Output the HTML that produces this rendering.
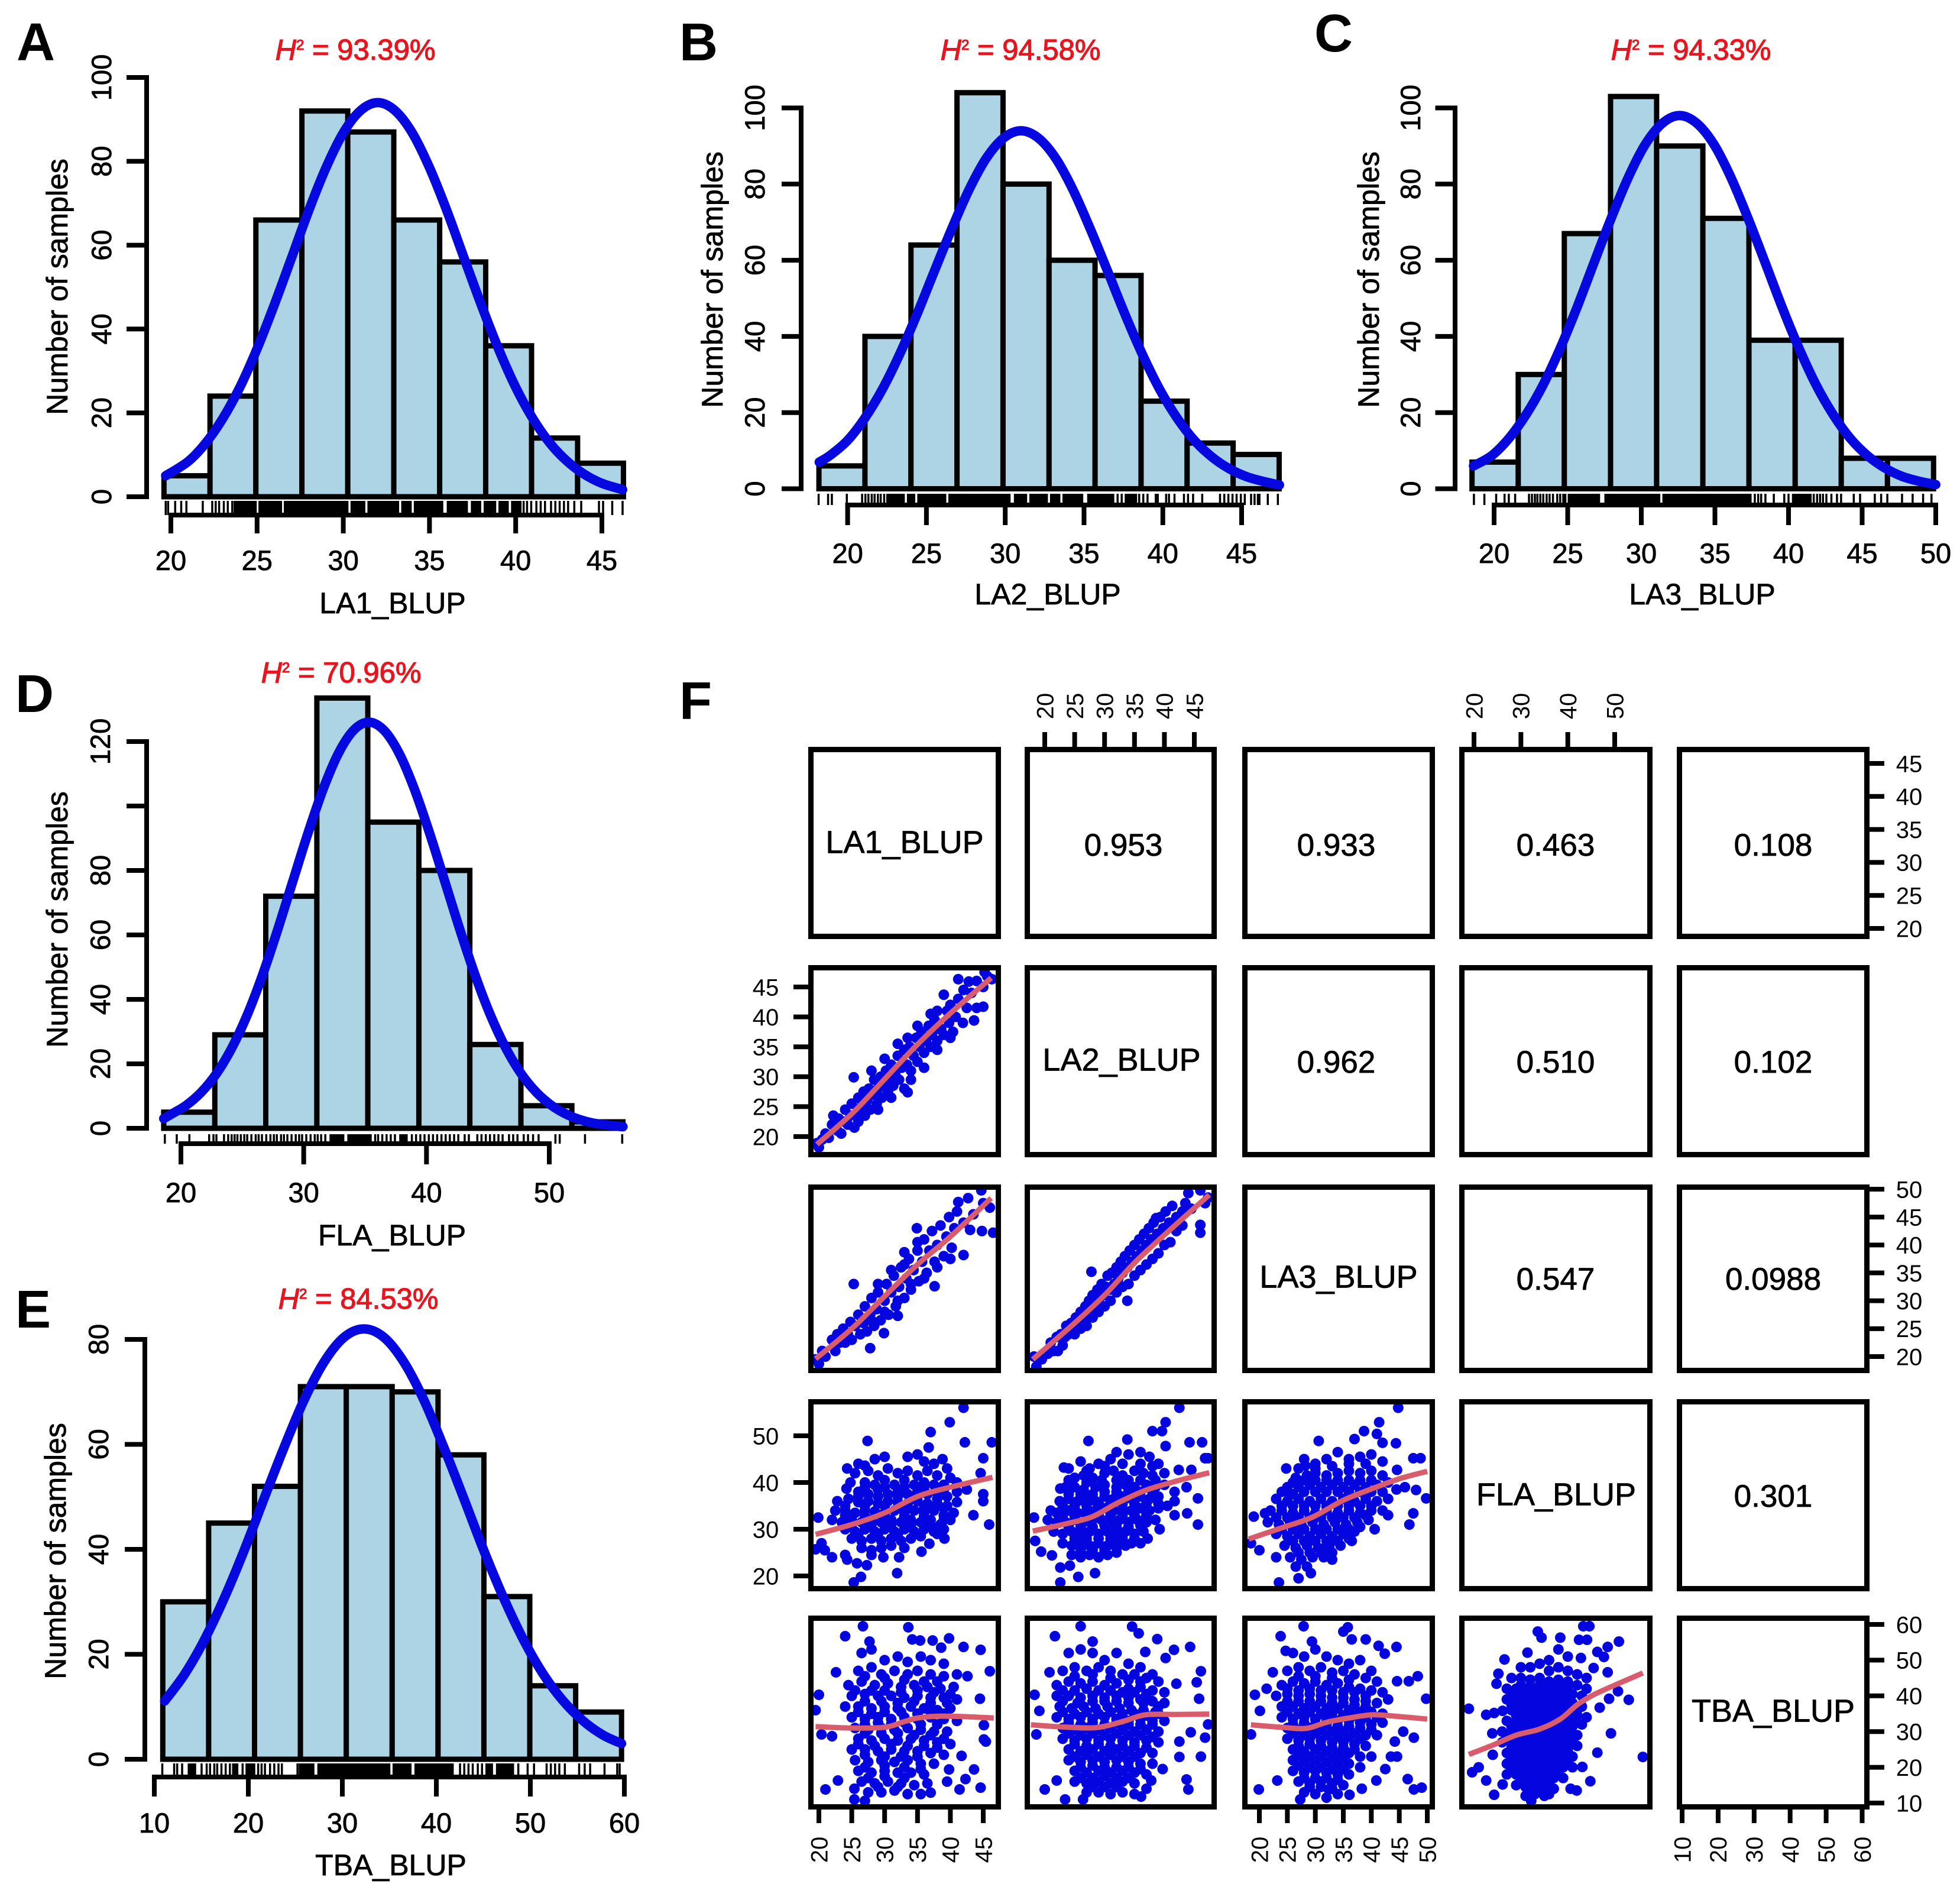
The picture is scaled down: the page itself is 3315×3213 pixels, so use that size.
<!DOCTYPE html>
<html lang="en">
<head>
<meta charset="utf-8">
<title>BLUP histograms and correlation matrix</title>
<style>
html,body{margin:0;padding:0;background:#fff;}
svg{display:block;}
text{font-family:"Liberation Sans",Arial,sans-serif;}
</style>
</head>
<body>
<svg id="figure" xmlns="http://www.w3.org/2000/svg" width="3315" height="3213" viewBox="0 0 3315 3213"></svg>
<script>
/* ---------- Histogram data ---------- */
const la1Edges=[19.6,22.27,24.93,27.6,30.26,32.93,35.59,38.26,40.92,43.59,46.25];
const la1Counts=[5,24,66,92,87,66,56,36,14,8];
const la1CurveX=[19.7,21,22,23,24,25,26,27,28,29,30,31,32,33,34,35,36,37,38,39,40,41,42,43,44,45,46.2];
const la1CurveY=[5,8.4,12.7,18.6,26.1,35.3,45.8,57,68.3,78.5,86.8,92.1,94,92.1,86.8,78.5,68.3,57,45.8,35.3,26.1,18.6,12.7,8.4,5.3,3.2,1.7];
const la1RugTicks=[19.7,19.84,20.25,20.6,20.9,21.85,22.4,22.6,22.8,23.07,23.3,23.56,40.46,40.66,40.9,41.2,41.45,41.7,42.05,42.3,42.55,42.8,43.04,43.4,43.8,44.83,45.07,45.6,46.2];
const la1RugBlocks=[[23.64,24.98],[25.08,26.45],[26.55,30.3],[30.42,31.28],[31.4,33.24],[33.36,33.97],[34.09,35.8],[36,37.23],[37.4,38],[38.14,38.87],[39,39.6],[39.73,40.34]];
const la1XTicks=[20,25,30,35,40,45];
const la1YTicks=[0,20,40,60,80,100];

const la2Edges=[18.18,21.1,24.02,26.94,29.86,32.78,35.7,38.62,41.54,44.46,47.38];
const la2Counts=[6,40,64,104,80,60,56,23,12,9];
const la2CurveX=[18.2,18.9,20,21.1,22.2,23.3,24.4,25.5,26.6,27.7,28.8,29.9,31,32.1,33.2,34.3,35.4,36.5,37.6,38.7,39.8,40.9,42,43.1,44.2,45.3,46.4,47.4];
const la2CurveY=[7,8.8,12.7,18.6,26.1,35.3,45.8,57.1,68.2,78.5,86.8,92.1,94,92.1,86.8,78.5,68.2,57.1,45.8,35.3,26.1,18.6,12.7,8.4,5.3,3.2,1.9,1];
const la2RugTicks=[18.16,18.76,19,19.95,20.92,21.13,21.32,21.53,21.71,21.92,22.1,22.32,37.13,37.39,38.5,38.76,39.03,39.55,39.68,40.21,40.39,40.74,41.34,41.6,41.92,42.5,43.63,43.9,44.16,44.42,44.68,44.95,45.2,45.6,45.82,46.03,46.13,46.66,47.3];
const la2RugBlocks=[[22.45,23.63],[23.76,24.29],[24.42,26.26],[26.39,30.34],[30.55,31.39],[31.53,32.71],[32.84,33.5],[33.63,34.95],[35.2,36.92],[37.58,38.37]];
const la2XTicks=[20,25,30,35,40,45];
const la2YTicks=[0,20,40,60,80,100];

const la3Edges=[18.5,21.64,24.77,27.91,31.04,34.18,37.31,40.45,43.58,46.72,49.85];
const la3Counts=[7,30,67,103,90,71,39,39,8,8];
const la3CurveX=[18.6,19.84,21,22.16,23.32,24.48,25.64,26.8,27.96,29.12,30.28,31.44,32.6,33.76,34.92,36.08,37.24,38.4,39.56,40.72,41.88,43.04,44.2,45.36,46.52,47.68,48.84,50];
const la3CurveY=[6,8.7,13.2,19.4,27.2,36.8,47.7,59.5,71.1,81.8,90.5,96,98,96,90.5,81.8,71.1,59.5,47.7,36.8,27.2,19.4,13.2,8.7,5.5,3.3,2,1.1];
const la3RugTicks=[18.63,19.34,20.14,20.71,21,21.43,22.37,22.57,22.77,22.94,23.14,23.34,23.57,23.77,24,24.29,24.49,37.71,37.94,38.14,38.43,39,39.71,40,41.71,41.94,42.14,42.34,42.57,42.91,43.29,43.57,44.43,44.86,45.86,46.29,46.71,47.71,48.43,49.14,49.71];
const la3RugBlocks=[[24.63,24.91],[25,27.2],[27.49,31.29],[31.43,37.49],[40.23,41.57]];
const la3XTicks=[20,25,30,35,40,45,50];
const la3YTicks=[0,20,40,60,80,100];

const flaEdges=[18.6,22.76,26.91,31.07,35.22,39.38,43.53,47.69,51.84,56];
const flaCounts=[5,29,72,133.5,95,80,26,7,2];
const flaCurveX=[18.6,19.18,20.42,21.66,22.9,24.14,25.38,26.62,27.86,29.1,30.34,31.58,32.82,34.06,35.3,36.54,37.78,39.02,40.26,41.5,42.74,43.98,45.22,46.46,47.7,48.94,50.18,51.42,52.66,53.9,56];
const flaCurveY=[3,4.3,7.1,11.2,17,24.9,35,47.3,61.4,76.5,91.5,105.2,116.3,123.5,126,123.5,116.3,105.2,91.5,76.5,61.4,47.3,35,24.9,17,11.2,7.1,4.3,2.5,1.4,0.5];
const flaRugTicks=[18.69,19.66,20.69,22.3,22.65,22.89,23.51,23.85,24.13,24.37,24.6,24.88,25.16,25.4,25.74,26.09,26.33,26.6,26.95,27.29,27.57,27.81,28.15,28.39,28.67,29.01,29.35,29.63,29.87,30.21,30.56,30.9,31.14,31.42,31.76,35.82,36.06,36.4,36.75,37.09,37.43,38.81,39.15,39.5,39.84,40.19,40.53,40.87,41.22,41.56,41.9,42.25,42.59,43.11,43.45,44.14,44.48,44.83,45.17,45.52,45.86,46.2,46.72,47.06,47.41,47.92,48.27,48.68,49.13,50.5,50.85,52.91,55.94];
const flaRugBlocks=[[32.1,33.31],[33.55,35.54],[37.78,38.47]];
const flaXTicks=[20,30,40,50];
const flaYTicks=[0,20,40,60,80,100,120];
const flaYTickLabels=['0','20','40','60','80','','120'];

const tbaEdges=[10.9,15.78,20.66,25.54,30.42,35.3,40.18,45.06,49.94,54.82,59.7];
const tbaCounts=[30,45,52,71,71,70,58,31,14,9];
const tbaCurveX=[11.1,13.22,15.34,17.46,19.58,21.7,23.82,25.94,28.06,30.18,32.3,34.42,36.54,38.66,40.78,42.9,45.02,47.14,49.26,51.38,53.5,55.62,57.74,59.7];
const tbaCurveY=[11.1,16.2,22.8,30.8,39.9,49.8,59.5,68.5,75.7,80.4,82,80.4,75.7,68.5,59.5,49.8,39.9,30.8,22.8,16.2,11.1,7.3,4.6,3];
const tbaRugTicks=[10.85,12.11,12.43,12.96,15.03,15.57,15.93,16.38,16.69,17.14,17.59,18.04,19.39,21.05,21.41,21.77,22.31,22.76,23.21,23.57,25.23,42.52,42.97,43.42,43.87,44.41,44.86,48.72,49.71,50.39,51.73,52.18,52.63,53.08,53.67,55.19,55.78,56.36,57.89,59.24,59.5];
const tbaRugBlocks=[[13.55,14.45],[18.27,18.94],[19.7,20.74],[25.36,27.03],[27.34,35.11],[35.34,37.36],[37.67,41.85],[45.22,46.03],[46.34,48.27]];
const tbaXTicks=[10,20,30,40,50,60];
const tbaYTicks=[0,20,40,60,80];

/* ---------- Matrix data ---------- */
const matrixLabels=['LA1_BLUP','LA2_BLUP','LA3_BLUP','FLA_BLUP','TBA_BLUP'];
const corrRow1=['0.953','0.933','0.463','0.108'];
const corrRow2=['0.962','0.510','0.102'];
const corrRow3=['0.547','0.0988'];
const corrRow4=['0.301'];
const ticks2045=[20,25,30,35,40,45];
const ticks2050by5=[20,25,30,35,40,45,50];
const ticks2050by10=[20,30,40,50];
const ticks1060=[10,20,30,40,50,60];

const la2VsLa1=[[19.7,18.9],[20,18.2],[20.5,19.5],[21,20.5],[21.5,19.8],[22,22],[22.2,23.5],[22.8,21],[23,23],[23.4,20.5],[23.8,22.5],[24,24.5],[24.4,22],[24.8,23.5],[25,25.5],[25.3,29.9],[25.4,21.5],[25.8,24],[26,26.5],[26,22.5],[26.5,25],[26.8,27.5],[27,23.5],[27.3,26],[27.6,28],[27.8,24.5],[28.2,27],[28.4,29.5],[28.8,25.5],[29,28],[29.4,30],[29.6,26.5],[30,28.5],[30.2,31],[30.5,27.5],[30.8,29.5],[31,32],[31.3,28.5],[31.6,30.5],[32,33.5],[32.2,29.5],[32.6,31.5],[33,34.5],[33,28],[33.5,27.4],[33.4,32],[33.8,35],[34,31],[34.4,33.5],[34.8,36.5],[35,32.5],[35.3,35],[35.6,37.5],[36,34],[36.3,36],[36.7,38.5],[37,35],[37.2,37],[37.6,39.5],[38,36],[38.2,38],[38.6,38],[39,37],[39,43.7],[39.5,41],[39.8,39],[40,42],[40.4,37.5],[40.8,40],[41.2,46.3],[41.2,43],[41.9,39],[42,44.5],[42.8,45.9],[42.5,41.5],[43.6,39.4],[43.2,44],[44,41.5],[44,46],[45,41.7],[45.2,47.5],[45.6,46.8],[46.3,46.3],[45,45],[28,31],[30,33],[32,35.5],[33.5,36.5],[35,38.5],[37,40.5],[38,41],[29,24.5],[31,26.5],[34,29.5],[36,31.5],[38,34.5],[40,36.5]];
const la3VsLa1=[[19.5,19.5],[20,18.7],[20.5,21],[21,20],[22,23],[22.5,21],[22.8,24],[23.2,22.5],[23.7,25],[24,22.5],[24.4,24],[24.8,26.2],[25,23],[25.3,33],[25.5,25.5],[26,27.5],[26.3,24],[26.8,26],[27,29],[27.3,24.5],[27.8,21.5],[27.8,27.5],[28,30.5],[28.4,25.5],[28.8,28.5],[29,31.5],[29.4,26.5],[29.9,24.2],[30,30],[30.3,33],[30.6,27.5],[31,31.5],[31.4,34.5],[31.7,29],[32,27.3],[32.2,32.5],[32.5,36],[33,30.5],[33,38.7],[33.3,34],[33.7,37.5],[34,32],[34.4,35.5],[34.9,43],[35,39],[35.2,33.5],[35.7,37],[36,41],[36.4,35],[36.8,39],[37.2,42.5],[37.6,32.6],[37.6,37],[38,40],[38.5,43.5],[39,38],[39.4,41.5],[39.8,45],[40.2,39.5],[40.6,43],[41,46],[41.2,47.7],[42,38.2],[42,44],[42.7,48.4],[43,42.7],[43.5,45.5],[44.7,49.8],[44.8,42.5],[45,47.5],[46,46.7],[46.5,42.2],[28,26.5],[30,28],[32,30],[34,33],[36,34],[38,36],[40,37.5],[29,33],[31,35.5],[33,36.5],[35,40.5]];
const la3VsLa2=[[18.2,20],[18.6,18.2],[19.5,19.5],[20.5,20.5],[21,22.5],[21.5,21],[22.2,21],[22,23.5],[22.7,24],[23,22],[23.4,23.5],[23.6,25.5],[24,24],[24.4,26],[24.8,24.5],[25.2,27],[25.6,25.5],[26,28],[26.3,26],[26.8,29],[27,27],[27.4,30],[27.8,35.2],[27.8,28],[28,31],[28.4,29],[28.8,32],[29,30],[29.5,33],[29.8,31],[30.2,32.5],[30.5,34.5],[30.9,32],[31.2,35],[31.6,33],[32,36],[32.3,34],[32.7,37],[33,35],[33.4,38],[33.8,30],[33.8,36],[34.2,39],[34.6,37],[35,40],[35.4,38],[35.8,41],[36.2,39],[36.6,42],[37,40],[37.4,43],[37.8,41],[38.2,44],[38.6,44.8],[38.8,42],[39.3,45],[39.8,43],[40.2,46],[40.8,44],[41.3,47],[42,45],[43,46],[43.5,47.5],[43,43.5],[44,49.3],[44.5,46.5],[46,49.8],[46,43.6],[46,42.2],[46.8,47.5],[47.3,48.5],[25,24],[26,25],[27,25.5],[28,27],[29,28],[30,29],[31,30],[32,31.5],[33,32.5],[34,33],[35,34.5],[36,35.5],[37,36.5],[38,37.5],[39,38.5],[40,40],[41,40.5],[42,42.5]];
const flaVsLa1=[[42,56],[39.9,52.9],[46.3,48.6],[42.2,48.6],[27.4,48.9],[37,50.8],[36.7,47.5],[45,45.2],[44.6,42],[43.5,33],[45.9,31],[45,37.5],[45,36],[19.9,32.5],[19.5,25.7],[20.9,25.5],[22,24],[20.4,27],[24,24.5],[24.3,23.5],[25.8,22.7],[27.3,22.3],[26.4,19.8],[25.3,18.6],[31.9,20.6],[32.2,24],[35.6,25.2],[39.1,28],[36.8,26.9],[24.3,43],[24.2,38.7],[27,43.6],[26,44],[28.5,45],[30,45.5],[33.5,45.5],[35,46],[36,44.5],[37.5,44],[38.8,45],[39.5,43],[25.5,42],[27.5,42.5],[29,41.5],[30.5,43],[32,42],[33.5,42.5],[35,41.5],[36.5,42.5],[38,41.5],[40,41],[24.8,40],[27,40],[28.5,39.5],[30,40.5],[31.5,39.5],[33,40.5],[34.5,39.5],[36,40],[37.5,39.5],[39,39.5],[41,40],[26,38],[27.5,37.5],[29,38.5],[30.5,37.5],[32,38],[33.5,37.5],[35,38],[36.5,37.5],[38,37.8],[39.5,37],[41,38],[42.5,38.5],[22.8,36],[24.5,36.5],[26,35.8],[27.5,36],[29,35.5],[30.5,36],[32,35.8],[33.5,35.5],[35,36],[36.5,35.5],[38,35.5],[39.5,35],[41,35.8],[22.5,34],[24,34],[25.5,33.5],[27,34],[28.5,33.8],[30,33.5],[31.5,34],[33,33.5],[34.5,34],[36,33.5],[37.5,34],[39,33],[40.5,33.5],[22,32],[23.5,31.5],[25,32],[26.5,31.5],[28,32],[29.5,31.5],[31,32],[32.5,31.5],[34,32],[35.5,31.5],[37,32],[38.5,31],[40,32],[24,30],[25.5,29.5],[27,30],[28.5,29.5],[30,30],[31.5,29.5],[33,30],[34.5,29.5],[36,30],[37.5,29.5],[39,30],[25,28],[26.5,27.5],[28,28],[29.5,27.5],[31,28],[32.5,27.5],[34,28],[35.5,28.5],[26.5,26],[28,25.5],[29.5,26],[31,26.5],[33,26],[28,24.5],[29.8,24],[26,37],[29,37],[32,37],[35,37],[38,36.5],[24,35],[27,35],[30,35],[33,34.5],[36,34.5],[39,34.5],[24,33],[27,32.8],[30,32.8],[33,32.8],[36,32.8],[39,32],[25,31],[28,31],[31,31],[34,31],[37,31],[26,29],[29,29],[32,29],[35,29],[38,29],[27,39],[30,39],[33,39],[36,39],[39,38.5]];
const flaVsLa2=[[42.5,56],[40.2,52.9],[38,51],[39.6,51],[33.8,49.2],[27.3,48.9],[40.2,47.8],[44.2,48.6],[46.3,48.6],[46.8,45.2],[47.3,45.2],[42.4,42.7],[44.5,42.7],[45.6,36.6],[43.7,39],[41.7,38],[41.7,36],[41.7,33],[43.8,33.4],[45.6,31],[39.2,30],[37.2,28],[36,27],[18.2,32.5],[18.4,27.5],[19.4,25.2],[21.2,24.4],[22.6,21.8],[22.6,18.6],[24.2,22.2],[25.6,19.8],[28.4,20.6],[22.6,38.7],[23.2,43.2],[26,44.5],[27.5,43],[29,44],[31,45],[32,46.5],[34,46],[36,46.5],[37.5,45.5],[39,44],[25,41],[26.5,41.5],[28,41],[30,42],[31.5,42.5],[33,41.5],[35,42.5],[36.5,42],[38,41.5],[40,42],[23.5,39],[25,39],[26.5,38.5],[28.5,39],[30,39.5],[32,39],[33.5,39.5],[35,39],[37,39.5],[38.5,39],[40,39.5],[22.5,36],[24,36.5],[25.5,36],[27,36.5],[28.5,36],[30,37],[31.5,36.5],[33,37],[34.5,36.5],[36,37],[37.5,36.5],[39,37],[21,34],[22,33.5],[24,34],[25.5,33.5],[27,34],[28.5,34],[30,34.5],[31.5,34],[33,34.5],[34.5,34],[36,34.5],[37.5,34],[39,34.5],[40.5,35],[20.5,32],[22,31.5],[23.5,31.5],[25,32],[26.5,31.5],[28,32],[29.5,32],[31,31.5],[32.5,32],[34,31.5],[35.5,32],[37,31.5],[38.5,32],[21.5,29.5],[23,29],[24.5,29.5],[26,29],[27.5,29.5],[29,29],[30.5,29.5],[32,29],[33.5,29.5],[35,29],[36.5,29.5],[23,27],[24.5,26.5],[26,27],[27.5,26.5],[29,27],[30.5,26.5],[32,27],[33.5,26.5],[34.5,27],[24.5,24.5],[26,24],[27.5,24.5],[29,24],[30.5,24.5],[32,25],[24,43],[27,42.5],[30,43.5],[33,44],[36,44],[38,43.5],[24,40.5],[27,40],[29.5,40.5],[32,40.5],[34,40.5],[36,40.5],[38.5,40.5],[24,37.5],[26,37.5],[28,37.5],[30,38],[32,38],[34,38],[36,38],[38,38],[23,35],[25,35],[27,35],[29,35.5],[31,35.5],[33,35.5],[35,35.5],[37,35.5],[39,35.5],[23,32.8],[25,32.8],[27,33],[29,33],[31,33],[33,33],[35,33],[37,33],[24,30.5],[26,30.5],[28,30.5],[30,30.8],[32,30.5],[34,30.5],[36,30.8],[25,28],[27,28],[29,28],[31,28],[33,28],[35,28],[26,25.5],[28,25.5],[30,25.5],[32,26]];
const flaVsLa3=[[44.8,56],[41.4,52.9],[38.7,51],[41,50.4],[37,49.3],[30.6,48.9],[44.4,48.4],[42,48.5],[47.5,45.2],[48.8,45.2],[49.8,36.6],[48,38.4],[44.6,42.7],[47.5,33.4],[46.8,31],[43,33],[40.6,30],[36.5,27.5],[31.7,26],[18.5,27],[20,25.5],[19,32.7],[21,33.4],[23,24],[27,19.5],[23.5,18.6],[29.2,20.6],[25.2,37.8],[24.8,43],[28.2,43.6],[46,39],[44.5,38.5],[28,45],[30,44],[32,45],[34,46.5],[36,45],[38,45.5],[40,46],[42,44.5],[26.5,41],[28.5,41.5],[30,42],[32,41.5],[34,42],[36,42.5],[38,42],[40,42.5],[42,41.5],[25,39],[27,39],[29,39.5],[31,39],[33,39.5],[35,39],[37,39.5],[39,39],[41,39.5],[43,40],[23,36.5],[25,36],[27,36.5],[29,36],[31,36.5],[33,36],[35,36.5],[37,36],[39,36.5],[41,36],[43,36.5],[22,34],[24,34],[26,33.5],[28,34],[30,33.5],[32,34],[34,33.5],[36,34],[38,33.5],[40,34],[42,34],[21.5,31.5],[23.5,31],[25.5,31.5],[27.5,31],[29.5,31.5],[31.5,31],[33.5,31.5],[35.5,31],[37.5,31.5],[39.5,32],[23,29],[25,28.5],[27,29],[29,28.5],[31,29],[33,28.5],[35,29],[37,29.5],[24.5,26.5],[26.5,26],[28.5,26.5],[30.5,26],[32.5,26.5],[34.5,26.5],[25.5,24],[27.5,23.5],[29.5,24],[31.5,24],[33,23.5],[26.5,22],[28.5,22],[27,43],[30,43],[33,43.5],[36,44],[39,44],[26,40],[28,40.5],[30,40.5],[32,40.5],[34,40.5],[36,40.5],[38,40.5],[40,40.5],[24,38],[26,37.5],[28,38],[30,38],[32,38],[34,38],[36,38],[38,38],[40,38],[42,38],[24,35],[26,35],[28,35],[30,35],[32,35],[34,35],[36,35],[38,35],[40,35],[23,32.5],[25,32.5],[27,32.5],[29,32.5],[31,32.5],[33,32.5],[35,32.5],[37,32.5],[39,33],[24,30],[26,30],[28,30],[30,30],[32,30],[34,30],[36,30],[38,30.5],[26,27.5],[28,27.5],[30,27.5],[32,27.5],[34,27.5],[36,28],[27,25],[29,25],[31,25],[33,25]];
const tbaVsLa1=[[26.7,59.5],[24,56.7],[33.6,59.2],[34.2,55.8],[35.4,55.5],[27.7,55.2],[37.3,55.5],[38.6,53.5],[39.8,56.1],[42,53.7],[44.6,52.9],[46,46.9],[44.5,39.2],[42.6,45.5],[20,40.3],[19.5,36],[22.6,46.6],[20.4,29.2],[22,28.7],[21,13.8],[22.9,16.3],[25.4,14],[25.4,11],[27,10.6],[37,12.9],[39.5,16],[41.4,13.8],[42.3,16.7],[44.6,14.3],[43.6,19.4],[39.8,19.4],[41.7,23.2],[45.1,27.8],[45.4,27.2],[45.1,31.8],[26.5,52],[28,53],[30,50],[32,51],[33.5,49.5],[35.5,51],[37,50],[39,49],[26,47],[28,48],[29.5,46],[31.5,47],[33.5,46],[35,47],[37,46],[39,45.5],[41,46],[24.5,43],[26.5,44],[28.5,43],[30.5,43.5],[32.5,42.5],[34.5,43],[36.5,42.5],[38.5,42],[40.5,42.5],[25,40],[27,40.5],[29,40],[31,40],[33,39.5],[35,40],[37,39.5],[39,39.5],[41,39],[24,37],[26,37],[28,36.5],[30,37],[32,36.5],[34,37],[36,36.5],[38,36],[40,36.5],[25,34],[27,33.5],[29,34],[31,33.5],[33,34],[35,33.5],[37,34],[39,33.5],[41,33],[25.5,31],[27.5,30.5],[29.5,31],[31.5,30.5],[33.5,31],[35.5,30.5],[37.5,30],[39.5,30],[26,28],[28,27.5],[30,28],[32,27.5],[34,28],[36,27.5],[38,27],[40,26.5],[25,25],[27,25],[29,24.5],[31,25],[33,24.5],[35,24.5],[37,24],[39,23.5],[25.5,22],[27.5,21.5],[29.5,22],[31.5,21.5],[33.5,22],[35.5,21],[37.5,21],[26,19],[28,18.5],[30,19],[32,18.5],[34,18.5],[36,18],[26.5,16],[28.5,15.5],[30.5,16],[32.5,15.5],[34.5,15],[36.5,15.5],[27.5,13],[29.5,13],[31.5,13.5],[33.5,12.5],[35.5,12.5],[27,45.5],[30,45],[33,44.5],[36,44],[38,44],[25.5,41.5],[28,41.5],[30,41.5],[32.5,41],[35,41.5],[37.5,41],[40,40.5],[27,38.5],[29.5,38.5],[32,38],[34.5,38.5],[37,38],[39.5,38],[26,35.5],[28,35],[30,35.5],[32.5,35.5],[35,35],[37,35.5],[39,35],[27,32],[29,32.5],[31,32],[33,32.5],[35.5,32],[38,32],[27,29.5],[29.5,29.5],[32,29.5],[34.5,29],[37,29],[39,28],[26,26.5],[28.5,26],[31,26.5],[33.5,26],[36,26],[38,25.5],[27,23.5],[30,23],[32.5,23],[35,23],[27,20],[30,20.5],[33,20],[35.5,19.5],[27.5,17],[30,17.5],[33,17],[29,14.5],[32,14.5]];
const tbaVsLa2=[[26,59.5],[21.7,56.7],[34.6,59.4],[35.7,57.5],[36.8,52.3],[38.8,55.9],[28,55.2],[41.6,52.9],[44.3,53.7],[40.2,50.6],[46.1,46.9],[45.4,43.8],[45.8,39.2],[42,43.4],[18.3,40.3],[19.1,35.8],[20.8,46.6],[18.6,29.2],[47.3,32],[44.4,29.8],[46.8,28.3],[42.5,27.2],[46.1,23],[42.5,22.9],[39.7,19.5],[43.7,16.6],[44,13.8],[20,13.8],[22,16.3],[23.4,11],[26.4,11],[36.1,11.8],[37.8,16.3],[24,52],[26,53],[28,52],[30,50],[32,52],[34,49],[36,48],[38,46],[23,47],[25,48],[27,47],[29,48],[31,47],[33,46],[35,46],[37,45],[39,44],[22,43],[24,44],[26,43.5],[28,44],[30,43],[32,43.5],[34,42],[36,42.5],[38,41.5],[40,41],[22,40],[24,40],[26,39.5],[28,40],[30,39.5],[32,40],[34,39.5],[36,39],[38,38.5],[40,38],[22.5,37],[24.5,36.5],[26.5,37],[28.5,36.5],[30.5,37],[32.5,36.5],[34.5,36],[36.5,36],[38.5,35.5],[22,34],[24,33.5],[26,34],[28,33.5],[30,34],[32,33.5],[34,33],[36,33.5],[38,33],[40,33],[23,31],[25,30.5],[27,31],[29,30.5],[31,31],[33,30.5],[35,30],[37,30.5],[39,30],[23,28],[25,27.5],[27,28],[29,27.5],[31,28],[33,27.5],[35,27],[37,27.5],[39,27],[24,25],[26,24.5],[28,25],[30,24.5],[32,25],[34,24.5],[36,24],[38,24],[24,22],[26,21.5],[28,22],[30,21.5],[32,22],[34,21.5],[36,21],[38,21],[25,19],[27,18.5],[29,19],[31,18.5],[33,19],[35,18.5],[37,18],[25,16],[27,15.5],[29,16],[31,15.5],[33,16],[35,15.5],[37,14],[27,13],[29,13],[31,12.5],[33,13],[35,12.5],[25,45.5],[28,46],[31,45],[34,44.5],[36,44],[23,41.5],[25,41.5],[27,42],[29,41.5],[31,41.5],[33,41],[35,41],[37,40.5],[23,38.5],[25.5,38],[28,38.5],[30,38.5],[32,38.5],[34,38],[36.5,38],[39,37],[23,35.5],[25,35],[27,35.5],[29,35],[31,35.5],[33,35],[35,35],[37,34.5],[39,35],[24,32.5],[26,32],[28,32.5],[30,32],[32,32.5],[34,32],[36,32],[38,32],[24,29.5],[26,29],[28,29.5],[30,29],[32,29.5],[34,29],[36,29],[38,28.5],[25,26.5],[27,26],[29,26.5],[31,26],[33,26],[35,26],[37,25.5],[25,23],[27,23.5],[29,23],[31,23.5],[33,23],[35,23],[26,20],[28,20.5],[30,20],[32,20],[34,20],[36,19.5],[26,17],[28,17],[30,17.5],[32,17],[34,17],[28,14.5],[30,14.5],[32,14.5]];
const tbaVsLa3=[[35.8,59.2],[35,58],[39,55.8],[36.5,55.8],[41.3,54],[42.4,51.8],[44.5,53.7],[44.6,44.1],[46.7,44.1],[48.3,45.5],[49.8,39.2],[45.7,30],[47.6,28.3],[44.2,27.2],[43.5,23],[44.6,23],[42.5,19.5],[40.9,16.3],[46.5,16.7],[47.6,13.8],[49,14.3],[36.1,12.3],[38.3,14],[32.4,13.8],[27.9,59.5],[23.8,56.7],[29.4,55.2],[24.7,52.6],[19.2,40.3],[20.1,35.8],[22.4,46.6],[21.3,42],[18.5,29.2],[19.9,13.8],[23.2,16.3],[27.3,11],[26,52],[28,51],[30,53],[32,51],[34,50],[36,49],[38,50],[40,47],[25,47],[27,48],[29,47],[31,48],[33,46.5],[35,47],[37,46],[39,45],[41,44],[24,43],[26,44],[28,43.5],[30,44],[32,43],[34,43.5],[36,42.5],[38,42],[40,41.5],[42,41],[23,40],[25,40.5],[27,40],[29,40.5],[31,40],[33,39.5],[35,39.5],[37,39],[39,38.5],[41,38],[43,39],[24,37],[26,37],[28,36.5],[30,37],[32,36.5],[34,36.5],[36,36],[38,35.5],[40,35.5],[42,35],[24,34],[26,33.5],[28,34],[30,33.5],[32,33.5],[34,33],[36,33],[38,32.5],[40,32],[42,32.5],[25,31],[27,30.5],[29,31],[31,30.5],[33,30],[35,30],[37,29.5],[39,29],[41,29],[25,28],[27,27.5],[29,28],[31,27.5],[33,27],[35,27],[37,26.5],[39,26],[26,25],[28,24.5],[30,25],[32,24.5],[34,24],[36,24],[38,23],[40,23],[26,22],[28,21.5],[30,22],[32,21.5],[34,21],[36,21],[38,20],[26,19],[28,18.5],[30,19],[32,18.5],[34,18],[36,18],[27,16],[29,15.5],[31,16],[33,15.5],[35,15],[28,13],[30,12.5],[32,11.5],[34,12.5],[27,45.5],[30,45.5],[33,45],[36,44.5],[25,42],[27,41.5],[29,42],[31,41.5],[33,41.5],[35,41],[37,41],[39,40],[25,38.5],[27,38.5],[29,38.5],[31,38.5],[33,38],[35,38],[37,37.5],[39,37],[25,35.5],[27,35],[29,35.5],[31,35],[33,35],[35,34.5],[37,34.5],[39,34],[41,34],[26,32],[28,32.5],[30,32],[32,32],[34,31.5],[36,31.5],[38,31],[40,30.5],[26,29.5],[28,29],[30,29.5],[32,29],[34,28.5],[36,28.5],[38,28],[27,26],[29,26.5],[31,26],[33,25.5],[35,25.5],[37,25],[27,23.5],[29,23],[31,23],[33,22.5],[35,22.5],[27,20.5],[29,20],[31,20],[33,19.5],[35,19.5],[28,17],[30,17],[32,17],[34,16.5],[29,14.5],[31,14.5],[33,14]];
const tbaVsFla=[[43.3,59.5],[44.6,59.5],[33.6,58],[34.4,56.3],[38.4,56.3],[42.4,55.7],[44.1,55.7],[50.9,55.2],[48.5,53.7],[42.8,50.6],[46.3,52.3],[47.7,50.9],[45.5,47.8],[48.5,46.6],[26.5,50.2],[31.4,52.1],[25.2,46.2],[24.8,43.4],[18.9,36.4],[22.6,34.7],[24.3,35.2],[26.1,35.8],[53,38.9],[50.7,41.3],[48.8,39.2],[46.8,36.7],[49.2,29.5],[46.3,24.1],[56,22.9],[43.1,20.1],[44.8,16.1],[41.9,13.5],[40.6,14],[19.6,18.6],[21,20],[22.6,16.3],[24.3,12.3],[26.1,15.2],[32.2,10.6],[23.9,29.5],[24,23.5],[38,53],[40,51],[36,50],[30,48],[32,48],[34,49],[36,47],[38,48],[40,47],[42,46],[44,45],[28,45],[30,45],[32,44.5],[34,45],[36,44],[38,44.5],[40,44],[42,43],[44,42],[27,42],[29,42],[31,41.5],[33,42],[35,41.5],[37,41],[39,41.5],[41,40.5],[43,40],[27,39],[29,39],[31,38.5],[33,39],[35,38.5],[37,38],[39,38.5],[41,38],[43,37],[28,36],[30,36],[32,35.5],[34,36],[36,35.5],[38,35],[40,35],[42,34.5],[44,34],[27,33],[29,33],[31,32.5],[33,33],[35,32.5],[37,32],[39,32],[41,31.5],[43,32],[26,30],[28,30],[30,29.5],[32,30],[34,29.5],[36,29],[38,29],[40,28.5],[42,29],[26,27],[28,27],[30,26.5],[32,27],[34,26.5],[36,26],[38,26],[40,25.5],[42,26],[27,24],[29,24],[31,23.5],[33,24],[35,23.5],[37,23],[39,23],[41,23],[27,21],[29,21],[31,20.5],[33,21],[35,20.5],[37,20],[39,20],[41,20],[27,18],[29,18],[31,17.5],[33,18],[35,17.5],[37,17],[39,17],[29,15],[31,14.5],[33,15],[35,14.5],[37,14],[31,12],[33,12.5],[35,12],[30,43],[32,42.5],[34,43],[36,43],[38,43],[40,42.5],[28,40.5],[30,40.5],[32,40],[34,40],[36,40],[38,40],[40,39.5],[28,37.5],[30,37.5],[32,37],[34,37.5],[36,37],[38,36.5],[40,36.5],[42,36],[29,34.5],[31,34],[33,34.5],[35,34],[37,33.5],[39,33.5],[41,33],[28,31.5],[30,31],[32,31.5],[34,31],[36,30.5],[38,30.5],[40,30],[27,28.5],[29,28.5],[31,28],[33,28.5],[35,28],[37,27.5],[39,27.5],[41,27],[28,25.5],[30,25],[32,25.5],[34,25],[36,24.5],[38,24.5],[40,24.5],[28,22.5],[30,22],[32,22.5],[34,22],[36,21.5],[38,21.5],[40,21.5],[28,19.5],[30,19],[32,19.5],[34,19],[36,18.5],[38,18.5],[30,16],[32,16.5],[34,16],[36,15.5],[32,13.5],[34,13.5],[36,12.5]];

const la2VsLa1Smooth=[[19.7,18.7],[25,23.8],[30,29.6],[35,35.4],[40,40.6],[46.2,46.5]];
const la3VsLa1Smooth=[[19.5,19.6],[25,25],[30,30.8],[35,36.5],[40,41.5],[46.2,48.4]];
const la3VsLa2Smooth=[[18,19.5],[25,26],[30,31],[35,36.8],[40,41.8],[47.5,49]];
const flaVsLa1Smooth=[[19.5,28.9],[25,31],[30,33.5],[35,37],[40,39],[46.4,41.1]];
const flaVsLa2Smooth=[[18,29.6],[23,31],[27.8,32.6],[32,35.5],[36.8,38.3],[42,40.3],[47.5,42.1]];
const flaVsLa3Smooth=[[18.1,27.9],[24,30.3],[29.5,32.6],[35,36.2],[40.2,38.7],[45,40.8],[50,42.4]];
const tbaVsLa1Smooth=[[19.5,31.4],[25,31],[30,31.2],[33,32.8],[35,33.8],[38,34.3],[42,34.2],[46.6,33.8]];
const tbaVsLa2Smooth=[[17.7,31.9],[23,31.3],[28.5,31.1],[33,32.8],[36.8,34.7],[42,34.8],[47.5,34.9]];
const tbaVsLa3Smooth=[[18.5,31.9],[24,31.2],[28.4,30.9],[32,32.6],[36,33.8],[40.2,34.7],[44.3,34.3],[50,33.5]];
const tbaVsFlaSmooth=[[18.9,23.6],[24,26.2],[29,29],[34,30.7],[38.4,33.5],[42,37.5],[45.5,40.3],[50,43],[56,46.4]];

/* ---------- Drawing helpers ---------- */
const NS='http://www.w3.org/2000/svg';
const root=document.getElementById('figure');
const FONT_BLUE='#0707e0';
function linear(v0,p0,v1,p1){return v=>p0+(v-v0)*(p1-p0)/(v1-v0);}
function smoothPath(pts){
  let d='M'+pts[0][0]+' '+pts[0][1];
  for(let i=0;i<pts.length-1;i++){
    const p0=pts[i-1]||pts[i],p1=pts[i],p2=pts[i+1],p3=pts[i+2]||p2;
    const c1x=p1[0]+(p2[0]-p0[0])/6,c1y=p1[1]+(p2[1]-p0[1])/6;
    const c2x=p2[0]-(p3[0]-p1[0])/6,c2y=p2[1]-(p3[1]-p1[1])/6;
    d+='C'+c1x+' '+c1y+' '+c2x+' '+c2y+' '+p2[0]+' '+p2[1];
  }
  return d;
}
function node(tag,parent,name){
  const el=document.createElementNS(NS,tag);
  
  
  parent.appendChild(el);
  return el;
}
function line(parent,name,x1,y1,x2,y2,w,color){
  const el=node('line',parent,name);
  el.setAttribute('x1',x1);el.setAttribute('y1',y1);
  el.setAttribute('x2',x2);el.setAttribute('y2',y2);
  el.setAttribute('stroke',color||'#000');
  el.setAttribute('stroke-width',w);
  return el;
}
function hText(parent,name,str,cx,cy,size,heavy){
  const el=node('text',parent,name);
  el.textContent=str;
  el.setAttribute('x',cx);
  el.setAttribute('y',cy+size*0.358);
  el.setAttribute('font-size',size);
  el.setAttribute('text-anchor','middle');
  if(heavy){el.setAttribute('stroke','#000');el.setAttribute('stroke-width',heavy);}
  return el;
}
function vText(parent,name,str,cx,cy,size,heavy){
  const el=node('text',parent,name);
  el.textContent=str;
  el.setAttribute('font-size',size);
  el.setAttribute('text-anchor','middle');
  el.setAttribute('transform','translate('+(cx+size*0.358)+','+cy+') rotate(-90)');
  if(heavy){el.setAttribute('stroke','#000');el.setAttribute('stroke-width',heavy);}
  return el;
}
function panelLetter(str,x,baseline){
  const el=node('text',root,'panel-letter-'+str.toLowerCase());
  el.textContent=str;
  el.setAttribute('x',x);
  el.setAttribute('y',baseline);
  el.setAttribute('font-size',90);
  el.setAttribute('font-weight','bold');
}
function heritTitle(id,value,cx,cy){
  const el=node('text',root,'heritability-title-'+id);
  el.setAttribute('x',cx);
  el.setAttribute('y',cy+17);
  el.setAttribute('font-size',49);
  el.setAttribute('text-anchor','middle');
  el.setAttribute('fill','#e8141e');
  el.setAttribute('stroke','#e8141e');
  el.setAttribute('stroke-width',1.2);
  const h=document.createElementNS(NS,'tspan');
  h.setAttribute('font-style','italic');
  h.textContent='H';
  const s=document.createElementNS(NS,'tspan');
  s.setAttribute('font-size',24);
  s.setAttribute('dy',-17);
  s.textContent='2';
  const r=document.createElementNS(NS,'tspan');
  r.setAttribute('dy',17);
  r.textContent=' = '+value;
  el.appendChild(h);el.appendChild(s);el.appendChild(r);
}
function histogram(cfg){
  const g=node('g',root,'histogram-'+cfg.id);
  const sx=cfg.sx,sy=cfg.sy;
  cfg.counts.forEach((c,i)=>{
    const el=node('rect',g,'bar-'+cfg.id+'-'+i);
    el.setAttribute('x',sx(cfg.edges[i]));
    el.setAttribute('y',sy(c));
    el.setAttribute('width',sx(cfg.edges[i+1])-sx(cfg.edges[i]));
    el.setAttribute('height',sy(0)-sy(c));
    el.setAttribute('fill','#add4e5');
    el.setAttribute('stroke','#000');
    el.setAttribute('stroke-width',9);
  });
  const curve=node('path',g,'normal-curve-'+cfg.id);
  curve.setAttribute('d',smoothPath(cfg.curveX.map((v,i)=>[sx(v),sy(cfg.curveY[i])])));
  curve.setAttribute('fill','none');
  curve.setAttribute('stroke',FONT_BLUE);
  curve.setAttribute('stroke-width',16);
  curve.setAttribute('stroke-linejoin','round');
  curve.setAttribute('stroke-linecap','round');
  cfg.rugTicks.forEach((v,i)=>{
    line(g,'rug-tick-'+cfg.id+'-'+i,sx(v),cfg.rugTop,sx(v),cfg.axisY,3.5);
  });
  cfg.rugBlocks.forEach((b,i)=>{
    const el=node('rect',g,'rug-dense-'+cfg.id+'-'+i);
    el.setAttribute('x',sx(b[0]));
    el.setAttribute('y',cfg.rugTop);
    el.setAttribute('width',sx(b[1])-sx(b[0]));
    el.setAttribute('height',cfg.axisY-cfg.rugTop);
    el.setAttribute('fill','#000');
  });
  const xt=cfg.xTicks,yt=cfg.yTicks;
  line(g,'x-axis-'+cfg.id,sx(xt[0])-4,cfg.axisY,sx(xt[xt.length-1])+4,cfg.axisY,8);
  xt.forEach(v=>{
    line(g,'x-tick-'+cfg.id+'-'+v,sx(v),cfg.axisY,sx(v),cfg.xTickEnd,8);
    hText(g,'x-tick-label-'+cfg.id+'-'+v,String(v),sx(v),cfg.xLabelY,47,0.8);
  });
  hText(g,'x-axis-title-'+cfg.id,cfg.xTitle,cfg.xTitleX,cfg.xTitleY,50,0.8);
  line(g,'y-axis-'+cfg.id,cfg.axisX,sy(yt[0])+4,cfg.axisX,sy(yt[yt.length-1])-4,8);
  yt.forEach((v,i)=>{
    line(g,'y-tick-'+cfg.id+'-'+v,cfg.axisX,sy(v),cfg.yTickEnd,sy(v),8);
    const lab=cfg.yLabels?cfg.yLabels[i]:String(v);
    if(lab)vText(g,'y-tick-label-'+cfg.id+'-'+v,lab,cfg.yLabelX,sy(v),47,0.8);
  });
  vText(g,'y-axis-title-'+cfg.id,'Number of samples',cfg.yTitleX,cfg.yTitleY,50,0.8);
}

/* ---------- Histograms ---------- */
panelLetter('A',28,102);
heritTitle('a','93.39%',601,84);
histogram({id:'la1',edges:la1Edges,counts:la1Counts,curveX:la1CurveX,curveY:la1CurveY,rugTicks:la1RugTicks,rugBlocks:la1RugBlocks,xTicks:la1XTicks,yTicks:la1YTicks,
  sx:linear(20,289,45,1018),sy:linear(0,840,100,131),axisY:871,rugTop:847,xTickEnd:902,xLabelY:947,axisX:248,yTickEnd:214,yLabelX:171,
  xTitle:'LA1_BLUP',xTitleX:664,xTitleY:1019,yTitleX:96,yTitleY:485});
panelLetter('B',1149,102);
heritTitle('b','94.58%',1726,84);
histogram({id:'la2',edges:la2Edges,counts:la2Counts,curveX:la2CurveX,curveY:la2CurveY,rugTicks:la2RugTicks,rugBlocks:la2RugBlocks,xTicks:la2XTicks,yTicks:la2YTicks,
  sx:linear(20,1433.6,45,2100),sy:linear(0,826.5,100,182.5),axisY:854,rugTop:835,xTickEnd:888,xLabelY:935,axisX:1355,yTickEnd:1322,yLabelX:1276,
  xTitle:'LA2_BLUP',xTitleX:1772,xTitleY:1004,yTitleX:1204,yTitleY:473});
panelLetter('C',2223,87);
heritTitle('c','94.33%',2860,84);
histogram({id:'la3',edges:la3Edges,counts:la3Counts,curveX:la3CurveX,curveY:la3CurveY,rugTicks:la3RugTicks,rugBlocks:la3RugBlocks,xTicks:la3XTicks,yTicks:la3YTicks,
  sx:linear(20,2527,50,3274),sy:linear(0,826.5,100,182.5),axisY:854,rugTop:835,xTickEnd:888,xLabelY:935,axisX:2461,yTickEnd:2427.5,yLabelX:2385,
  xTitle:'LA3_BLUP',xTitleX:2879,xTitleY:1004,yTitleX:2314,yTitleY:473});
panelLetter('D',26,1204);
heritTitle('d','70.96%',577,1137);
histogram({id:'fla',edges:flaEdges,counts:flaCounts,curveX:flaCurveX,curveY:flaCurveY,rugTicks:flaRugTicks,rugBlocks:flaRugBlocks,xTicks:flaXTicks,yTicks:flaYTicks,yLabels:flaYTickLabels,
  sx:linear(20,306,50,929),sy:linear(0,1908,120,1254),axisY:1934,rugTop:1918,xTickEnd:1969,xLabelY:2016,axisX:248,yTickEnd:214,yLabelX:169,
  xTitle:'FLA_BLUP',xTitleX:663,xTitleY:2088,yTitleX:96,yTitleY:1555});
panelLetter('E',26,2245);
heritTitle('e','84.53%',606,2196);
histogram({id:'tba',edges:tbaEdges,counts:tbaCounts,curveX:tbaCurveX,curveY:tbaCurveY,rugTicks:tbaRugTicks,rugBlocks:tbaRugBlocks,xTicks:tbaXTicks,yTicks:tbaYTicks,
  sx:linear(10,261,60,1056),sy:linear(0,2975,80,2265),axisY:3005,rugTop:2982,xTickEnd:3038,xLabelY:3082,axisX:245,yTickEnd:211,yLabelX:166,
  xTitle:'TBA_BLUP',xTitleX:661,xTitleY:3153,yTitleX:93,yTitleY:2623});

/* ---------- Correlation matrix ---------- */
panelLetter('F',1149,1216);
const matrix=node('g',root,'scatterplot-matrix');
const cols=[[1367,1693],[1733,2058],[2101,2427],[2468,2795],[2836,3162]];
const rows=[[1263,1588],[1632,1957],[2003,2322],[2366,2691],[2732,3060]];
const colScale=[linear(20,1385,45,1663),linear(20,1767,45,2020),linear(20,2130,50,2414),linear(20,2493,50,2731),linear(10,2845,60,3149.5)];
const rowScale=[linear(20,1570,45,1291),linear(20,1922,45,1669),linear(20,2294,50,2011),linear(20,2665,50,2428),linear(10,3049,60,2747)];
function scatter(name,r,c,pts,smooth,radius){
  const g=node('g',matrix,'scatter-'+name);
  const sx=colScale[c],sy=rowScale[r];
  pts.forEach((p,i)=>{
    const d=node('circle',g,'point-'+name+'-'+i);
    d.setAttribute('cx',sx(p[0]));
    d.setAttribute('cy',sy(p[1]));
    d.setAttribute('r',radius);
    d.setAttribute('fill','#0505e0');
  });
  const l=node('path',g,'smooth-line-'+name);
  l.setAttribute('d',smoothPath(smooth.map(p=>[sx(p[0]),sy(p[1])])));
  l.setAttribute('fill','none');
  l.setAttribute('stroke','#d95c6c');
  l.setAttribute('stroke-width',9);
  l.setAttribute('stroke-linejoin','round');
}
scatter('la2-la1',1,0,la2VsLa1,la2VsLa1Smooth,9);
scatter('la3-la1',2,0,la3VsLa1,la3VsLa1Smooth,9);
scatter('la3-la2',2,1,la3VsLa2,la3VsLa2Smooth,9);
scatter('fla-la1',3,0,flaVsLa1,flaVsLa1Smooth,9);
scatter('fla-la2',3,1,flaVsLa2,flaVsLa2Smooth,9);
scatter('fla-la3',3,2,flaVsLa3,flaVsLa3Smooth,9);
scatter('tba-la1',4,0,tbaVsLa1,tbaVsLa1Smooth,9);
scatter('tba-la2',4,1,tbaVsLa2,tbaVsLa2Smooth,9);
scatter('tba-la3',4,2,tbaVsLa3,tbaVsLa3Smooth,9);
scatter('tba-fla',4,3,tbaVsFla,tbaVsFlaSmooth,9);

rows.forEach((ry,r)=>{
  cols.forEach((cx,c)=>{
    const el=node('rect',matrix,'matrix-cell-r'+(r+1)+'-c'+(c+1));
    el.setAttribute('x',cx[0]+4.5);
    el.setAttribute('y',ry[0]+4.5);
    el.setAttribute('width',cx[1]-cx[0]-9);
    el.setAttribute('height',ry[1]-ry[0]-9);
    el.setAttribute('fill','none');
    el.setAttribute('stroke','#000');
    el.setAttribute('stroke-width',9);
  });
});
const labelY=[1423,1791,2158,2526,2892];
const labelX=[1530,1897,2264,2632,2999];
matrixLabels.forEach((t,i)=>{
  hText(matrix,'diagonal-label-'+t.toLowerCase().replace('_','-'),t,labelX[i],labelY[i],54,0.8);
});
const numberX=[1530,1900,2260,2631,2999];
const numberY=[1428,1795,2162,2529];
[corrRow1,corrRow2,corrRow3,corrRow4].forEach((vals,r)=>{
  vals.forEach((t,i)=>{
    const c=r+1+i;
    hText(matrix,'correlation-r'+(r+1)+'-c'+(c+1),t,numberX[c],numberY[r],53,0.8);
  });
});
function topAxis(c,ticks){
  const s=colScale[c];
  ticks.forEach(v=>{
    line(matrix,'top-tick-c'+(c+1)+'-'+v,s(v),1263,s(v),1238,8);
    vText(matrix,'top-tick-label-c'+(c+1)+'-'+v,String(v),s(v),1194,40);
  });
}
function bottomAxis(c,ticks){
  const s=colScale[c];
  ticks.forEach(v=>{
    line(matrix,'bottom-tick-c'+(c+1)+'-'+v,s(v),3060,s(v),3083,8);
    vText(matrix,'bottom-tick-label-c'+(c+1)+'-'+v,String(v),s(v),3128,40);
  });
}
function leftAxis(r,ticks){
  const s=rowScale[r];
  ticks.forEach(v=>{
    line(matrix,'left-tick-r'+(r+1)+'-'+v,1367,s(v),1342,s(v),8);
    hText(matrix,'left-tick-label-r'+(r+1)+'-'+v,String(v),1295,s(v),40);
  });
}
function rightAxis(r,ticks){
  const s=rowScale[r];
  ticks.forEach(v=>{
    line(matrix,'right-tick-r'+(r+1)+'-'+v,3162,s(v),3187,s(v),8);
    hText(matrix,'right-tick-label-r'+(r+1)+'-'+v,String(v),3229,s(v),40);
  });
}
topAxis(1,ticks2045);
topAxis(3,ticks2050by10);
bottomAxis(0,ticks2045);
bottomAxis(2,ticks2050by5);
bottomAxis(4,ticks1060);
leftAxis(1,ticks2045);
leftAxis(3,ticks2050by10);
rightAxis(0,ticks2045);
rightAxis(2,ticks2050by5);
rightAxis(4,ticks1060);
</script>
</body>
</html>
